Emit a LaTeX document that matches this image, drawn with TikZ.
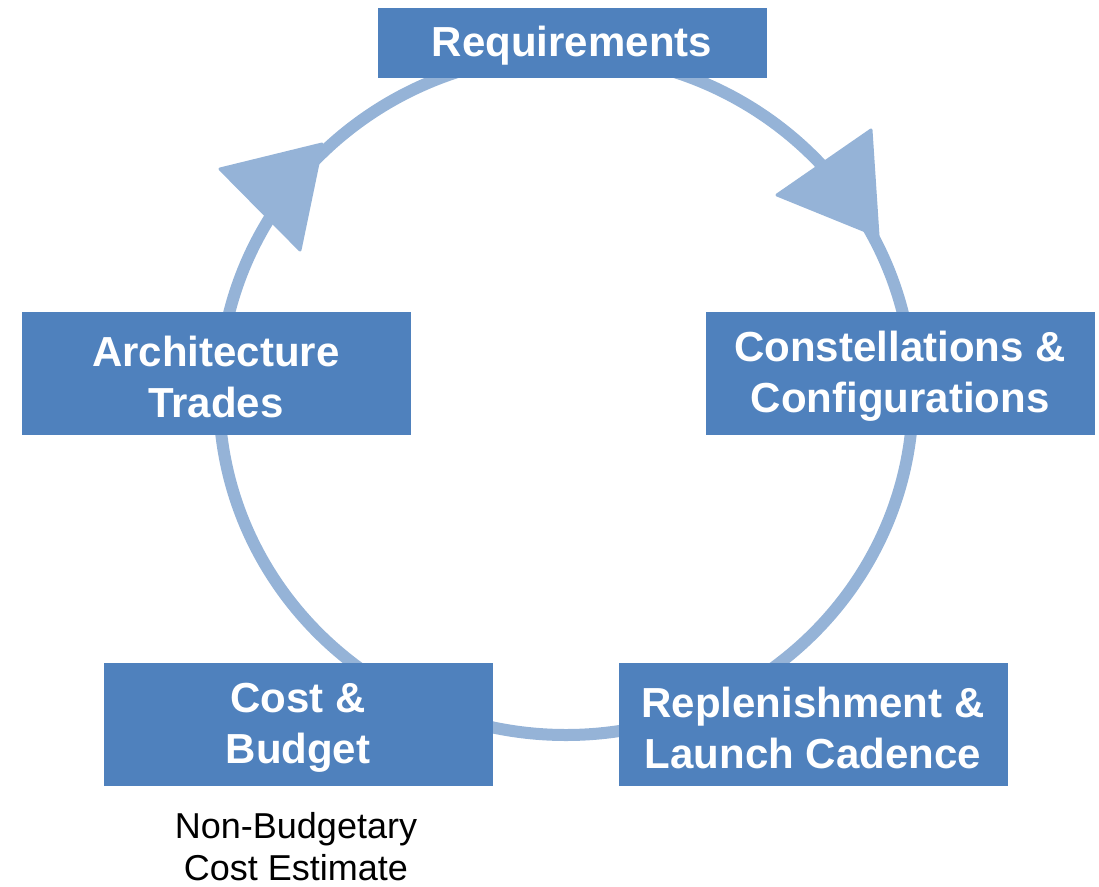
\documentclass[tikz,border=0pt]{standalone}
\usepackage{fontspec}
\setmainfont{Liberation Sans}
\definecolor{boxblue}{HTML}{4F81BD}
\definecolor{ringblue}{HTML}{95B3D7}
\begin{document}
\begin{tikzpicture}[x=1pt,y=-1pt,
  stage/.style={fill=boxblue, minimum width=389pt, minimum height=123pt, inner sep=0pt},
  stagetext/.style={text=white, font=\fontsize{42}{51}\selectfont\bfseries,
    align=center, inner sep=0pt, yshift=-3pt},
  ring/.style={draw=ringblue, line width=12pt},
  head/.style={fill=ringblue, draw=ringblue, line width=3pt, line join=round},
  note/.style={font=\fontsize{36}{42}\selectfont, align=center, inner sep=0pt}]
\useasboundingbox (0,0) rectangle (1099,886);

% cycle ring
\draw[ring] (566,395) ellipse [x radius=347, y radius=340];

% arrowheads on the ring
\coordinate (tipL) at (322,144);
\coordinate (tipR) at (878,236);
\filldraw[head] (tipL) -- (220,169) -- (300,250) -- cycle;
\filldraw[head] (tipR) -- (777,195) -- (871,130) -- cycle;

% stages
\node[stage, minimum height=70pt, label={[stagetext]center:Requirements}] (req) at (572,43) {};
\node[stage, label={[stagetext]center:{Architecture\\Trades}}] (arch) at (216,373.5) {};
\node[stage, label={[stagetext]center:{Constellations \&\\Configurations}}] (const) at (900,373.5) {};
\node[stage, label={[stagetext]center:{Cost \&\\Budget}}] (cost) at (298,724.5) {};
\node[stage, label={[stagetext]center:{Replenishment \&\\Launch Cadence}}] (repl) at (813,724.5) {};

% annotation under cost stage
\node[note] (nbce) at (296,847) {Non-Budgetary\\Cost Estimate};
\end{tikzpicture}
\end{document}
